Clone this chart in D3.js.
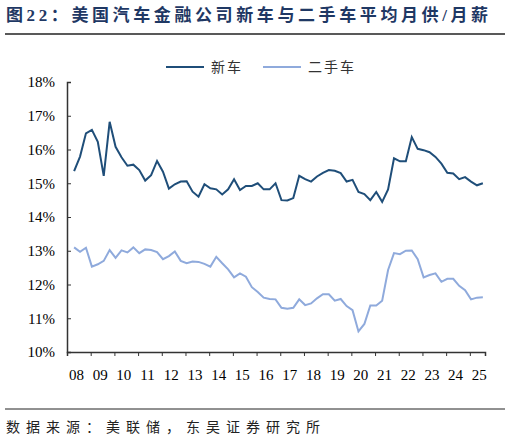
<!DOCTYPE html>
<html>
<head>
<meta charset="utf-8">
<script src="https://cdn.jsdelivr.net/npm/d3@7"></script>
<style>
body { margin: 0; background: #fff; }
</style>
</head>
<body>
<div id="chart"></div>
<script>
var newCar = [15.36,15.79,16.48,16.58,16.23,15.22,16.82,16.08,15.77,15.52,15.55,15.39,15.08,15.24,15.66,15.34,14.84,14.97,15.05,15.06,14.75,14.60,14.97,14.85,14.82,14.67,14.82,15.12,14.80,14.92,14.92,15.00,14.82,14.82,15.00,
  14.50,14.49,14.56,15.22,15.12,15.05,15.20,15.31,15.39,15.37,15.30,15.05,15.10,14.74,14.68,14.50,14.74,14.45,14.82,15.74,15.65,15.65,16.37,16.02,15.98,15.92,15.78,15.58,15.31,15.29,15.12,15.18,15.05,14.94,15.00];
var usedCar = [13.10,12.97,13.09,12.53,12.60,12.70,13.02,12.79,13.01,12.95,13.10,12.93,13.04,13.02,12.96,12.75,12.84,12.98,12.70,12.63,12.68,12.67,12.61,12.53,12.82,12.63,12.45,12.21,12.33,12.23,11.92,11.78,11.61,11.57,11.56,
  11.31,11.28,11.31,11.56,11.39,11.44,11.59,11.71,11.71,11.52,11.57,11.36,11.24,10.61,10.83,11.38,11.38,11.52,12.43,12.93,12.90,13.00,13.01,12.75,12.21,12.28,12.33,12.08,12.17,12.17,11.96,11.83,11.56,11.61,11.62];
var yearLabels = ["08","09","10","11","12","13","14","15","16","17","18","19","20","21","22","23","24","25"];
var yTicks = [10,11,12,13,14,15,16,17,18];

var W = 510, H = 444;
var svg = d3.select("#chart").append("svg").attr("width", W).attr("height", H);
var serif = "'Liberation Serif','Noto Sans CJK SC',serif";
var cjk = "'Noto Sans CJK SC',sans-serif";

svg.append("text").attr("x", 6).attr("y", 21)
  .attr("font-family", serif).attr("font-weight", "bold").attr("font-size", 17)
  .attr("letter-spacing", 3.6)
  .attr("fill", "#1f3864").text("图22：美国汽车金融公司新车与二手车平均月供/月薪");
svg.append("line").attr("x1", 5).attr("x2", 505).attr("y1", 34).attr("y2", 34)
  .attr("stroke", "#222").attr("stroke-width", 1.3);

var x = d3.scaleLinear().domain([2008, 2025.64]).range([67, 485]);
var y = d3.scaleLinear().domain([10, 18]).range([352, 82]);
var t = function(i) { return 2008.3 + i * 0.25; };

// axes
var ya = svg.append("g").attr("transform", "translate(67,0)")
  .call(d3.axisLeft(y).tickValues(yTicks).tickSize(-4).tickPadding(12).tickFormat(function(d) { return d + "%"; }));
var xa = svg.append("g").attr("transform", "translate(0,352)")
  .call(d3.axisBottom(x).tickValues(d3.range(2008, 2026)).tickSize(4).tickFormat(""));
[ya, xa].forEach(function(a) {
  a.select(".domain").attr("stroke", "#333").attr("stroke-width", 1.5);
  a.selectAll(".tick line").attr("stroke", "#333");
});
ya.selectAll("text").attr("font-family", serif).attr("font-size", 15).attr("fill", "#000");
svg.append("g").selectAll("text").data(yearLabels).join("text")
  .attr("x", function(d, i) { return x(2008 + i + 0.4); }).attr("y", 380)
  .attr("text-anchor", "middle").attr("font-family", serif).attr("font-size", 15)
  .text(function(d) { return d; });

var line = d3.line().x(function(d, i) { return x(t(i)); }).y(function(d) { return y(d); });
svg.append("path").datum(usedCar).attr("d", line).attr("fill", "none")
  .attr("stroke", "#8faadc").attr("stroke-width", 2);
svg.append("path").datum(newCar).attr("d", line).attr("fill", "none")
  .attr("stroke", "#1f4e79").attr("stroke-width", 2);

// legend
var leg = [["新车", "#1f4e79", 166], ["二手车", "#8faadc", 263]];
leg.forEach(function(l) {
  svg.append("line").attr("x1", l[2]).attr("x2", l[2] + 38).attr("y1", 67).attr("y2", 67)
    .attr("stroke", l[1]).attr("stroke-width", 2);
  svg.append("text").attr("x", l[2] + 45).attr("y", 72).attr("font-family", cjk)
    .attr("font-size", 14).attr("fill", "#333").attr("letter-spacing", 2).text(l[0]);
});

svg.append("line").attr("x1", 5).attr("x2", 505).attr("y1", 409).attr("y2", 409)
  .attr("stroke", "#222").attr("stroke-width", 1);
svg.append("text").attr("x", 6).attr("y", 432).attr("font-family", cjk)
  .attr("font-size", 14).attr("letter-spacing", 6).attr("fill", "#222").text("数据来源：美联储，东吴证券研究所");
</script>
</body>
</html>
